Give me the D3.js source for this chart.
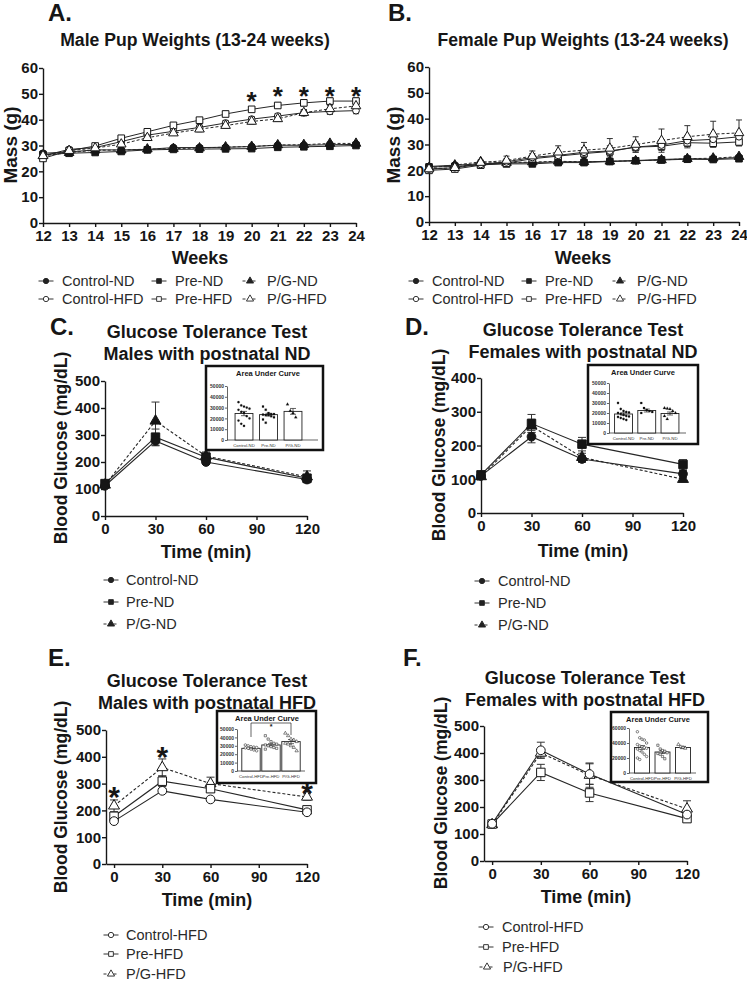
<!DOCTYPE html>
<html>
<head>
<meta charset="utf-8">
<script src="https://cdn.jsdelivr.net/npm/d3@7"></script>
<style>
  body { margin: 0; background: #fff; }
  svg { display: block; }
</style>
</head>
<body>
<svg id="fig" width="747" height="997"></svg>
<script>
// ---------------- data ----------------
const weeks = [12, 13, 14, 15, 16, 17, 18, 19, 20, 21, 22, 23, 24];
const massTicks = [0, 10, 20, 30, 40, 50, 60];
const gttTimes = [0, 30, 60, 120];
const gttTicks = [0, 30, 60, 90, 120];
const ndNames = ["Control-ND", "Pre-ND", "P/G-ND"];
const hfdNames = ["Control-HFD", "Pre-HFD", "P/G-HFD"];

// A. male pup weights (g)
const maleCtrlND = [27, 27.5, 28.3, 28.3, 28.5, 29.2, 29.2, 29.3, 29.6, 30.1, 30.1, 30.3, 30.4];
const malePreND = [26.5, 27, 27.3, 27.7, 28.3, 28.5, 28.6, 28.7, 28.8, 29.3, 29.5, 29.7, 30];
const malePgND = [26, 27.2, 28.2, 28.2, 28.6, 28.8, 29, 29.4, 29.6, 30.2, 30.3, 30.8, 30.8];
const maleCtrlHFD = [26, 28.5, 29.2, 31.5, 34, 35.5, 37, 38.7, 40.2, 41.4, 42.7, 43.2, 43.5];
const malePreHFD = [25, 28, 29.8, 32.8, 35.3, 37.8, 39.8, 42.2, 44, 45.5, 46.5, 47.2, 47.2];
const malePgHFD = [26, 28, 29, 30.5, 33, 34.8, 36.3, 37.7, 39.3, 40.3, 42.7, 44.2, 45.3];
const maleNDErr = [0.4, 0.4, 0.4, 0.4, 0.4, 0.4, 0.4, 0.5, 0.5, 0.5, 0.5, 0.5, 0.5];
const maleHFDErr = [0.5, 0.5, 0.6, 0.8, 0.8, 0.9, 1, 1, 1, 1, 1.2, 1.2, 1.2];
const maleStarWeeks = [20, 21, 22, 23, 24];
const maleStarMass = [49.2, 51.2, 51.2, 51.2, 51.2];

// B. female pup weights (g)
const femCtrlND = [21.5, 22, 22.5, 22.8, 23, 23.3, 23.3, 23.5, 23.8, 24.2, 24.5, 24.4, 25];
const femPreND = [21.3, 21.5, 22.2, 22.5, 22.5, 23, 23, 23.4, 23.7, 24, 24.3, 24.2, 24.5];
const femPgND = [21, 22, 23.3, 23, 23.2, 23.5, 23.3, 23.5, 23.7, 24, 24.5, 24.7, 25.3];
const femCtrlHFD = [20.5, 21, 22.3, 23.3, 25, 25.8, 27, 27.5, 29, 29.8, 31.5, 32, 33];
const femPreHFD = [20, 20.5, 22, 22.8, 24.5, 25.5, 26.5, 27.3, 29, 29.3, 30.7, 30.5, 31];
const femPgHFD = [20.5, 21, 23, 23.8, 25.5, 27, 27.8, 28.5, 30, 31.5, 33, 34, 34.5];
const femNDErr = [0.4, 0.4, 0.4, 0.4, 0.4, 0.4, 0.4, 0.4, 0.4, 0.5, 0.5, 0.5, 0.5];
const femCtrlHFDErr = [0.5, 0.5, 0.8, 1.2, 1.5, 1.5, 1.8, 2, 2, 2, 2, 1.5, 1.5];
const femPreHFDErr = [0.5, 0.5, 0.8, 1, 1.2, 1.5, 1.5, 1.5, 1.5, 1.5, 1.5, 1.5, 1.5];
const femPgHFDErr = [0.5, 0.6, 1, 1.7, 2, 2.5, 3, 3.8, 3, 4.5, 4.3, 5, 5];

// C. GTT males, postnatal ND (mg/dL)
const gttMaleCtrlND = [112, 278, 200, 135], gttMaleCtrlNDErr = [8, 18, 8, 8];
const gttMalePreND = [120, 292, 218, 140], gttMalePreNDErr = [8, 30, 10, 10];
const gttMalePgND = [115, 352, 222, 145], gttMalePgNDErr = [10, 70, 15, 22];
// D. GTT females, postnatal ND
const gttFemCtrlND = [110, 226, 160, 116], gttFemCtrlNDErr = [6, 18, 10, 10];
const gttFemPreND = [113, 265, 204, 144], gttFemPreNDErr = [6, 27, 20, 14];
const gttFemPgND = [108, 258, 165, 100], gttFemPgNDErr = [5, 20, 12, 6];
// E. GTT males, postnatal HFD
const gttMaleCtrlHFD = [160, 273, 241, 193], gttMaleCtrlHFDErr = [6, 8, 6, 6];
const gttMalePreHFD = [178, 309, 281, 202], gttMalePreHFDErr = [10, 20, 14, 8];
const gttMalePgHFD = [217, 360, 300, 250], gttMalePgHFDErr = [22, 32, 24, 12];
const gttMaleStarTime = [0, 30, 120];
const gttMaleStarGlu = [276, 425, 291];
// F. GTT females, postnatal HFD
const gttFemCtrlHFD = [138, 410, 322, 172], gttFemCtrlHFDErr = [8, 30, 38, 15];
const gttFemPreHFD = [137, 328, 252, 157], gttFemPreHFDErr = [8, 30, 32, 10];
const gttFemPgHFD = [135, 400, 318, 193], gttFemPgHFDErr = [8, 15, 45, 30];

// insets: area under curve
const aucTicks50 = [0, 10000, 20000, 30000, 40000, 50000];
const aucTicks60 = [0, 20000, 40000, 60000];
const aucMaleND = [24500, 23500, 26500], aucMaleNDErr = [2000, 1200, 2700];
const aucMaleNDDots = [
  [35000, 32000, 31000, 30000, 29000, 28000, 26000, 25000, 22000, 20000, 18000, 15000, 13000],
  [31000, 28000, 25000, 24000, 24000, 23500, 23000, 23000, 22000, 21000, 19000, 16000],
  [33000, 27000, 25000, 21000]];
const aucFemND = [19000, 22500, 19500], aucFemNDErr = [1200, 1500, 1500];
const aucFemNDDots = [
  [30000, 24000, 22000, 21000, 20500, 20000, 19000, 18000, 17000, 16500, 16000, 15000, 14000, 13000],
  [30000, 25000, 23000, 22000, 21000, 20000],
  [25000, 24500, 24000, 22000, 20000, 17000, 14000]];
const aucMaleHFD = [27000, 31000, 35000], aucMaleHFDErr = [1000, 1500, 2500];
const aucMaleHFDDots = [
  [31000, 30000, 29000, 28500, 28000, 27500, 27000, 26000, 25000, 24000],
  [42000, 38000, 35000, 33000, 32000, 31000, 30000, 29000, 28000, 27000, 26000],
  [45000, 42000, 38000, 37000, 35000, 33000, 32000, 30000, 28000, 24000]];
const aucFemHFD = [34000, 28000, 34000], aucFemHFDErr = [2500, 2000, 1500];
const aucFemHFDDots = [
  [55000, 47000, 45000, 44000, 40000, 38000, 36000, 35000, 34000, 33000, 32000, 30000, 28000, 25000, 22000, 20000, 18000],
  [37000, 32000, 30000, 29000, 27000, 26000, 25000, 22000, 19000],
  [38000, 35000, 34000, 33000]];

// ---------------- drawing ----------------
const FONT = '"Liberation Sans", Arial, Helvetica, sans-serif';
const INK = "#161616";
const shapes = [d3.symbolCircle, d3.symbolSquare, d3.symbolTriangle];
const dashes = [null, null, "3,2"];
const svg = d3.select("#fig").attr("font-family", FONT);

function txt(x, y, s, size, opts = {}) {
  return svg.append("text")
    .attr("x", x).attr("y", y)
    .attr("font-size", size)
    .attr("font-weight", opts.bold === false ? "normal" : "bold")
    .attr("text-anchor", opts.anchor || "middle")
    .attr("fill", opts.fill || INK)
    .text(s);
}

function yLabel(x, y, s, size) {
  svg.append("text")
    .attr("transform", `translate(${x},${y}) rotate(-90)`)
    .attr("font-size", size).attr("font-weight", "bold")
    .attr("text-anchor", "middle").attr("fill", INK)
    .text(s);
}

function star(g, x, y, size) {
  g.append("text").attr("x", x).attr("y", y).attr("dy", "0.55em")
    .attr("text-anchor", "middle").attr("font-size", size)
    .attr("font-weight", "bold").attr("fill", INK).text("*");
}

function linePanel(p) {
  const x = d3.scaleLinear().domain(p.xDom).range(p.xRange);
  const y = d3.scaleLinear().domain(p.yDom).range(p.yRange);
  const g = svg.append("g");

  const xAxis = g.append("g").attr("transform", `translate(0,${p.yRange[0]})`)
    .call(d3.axisBottom(x).tickValues(p.xTicks).tickSize(4).tickSizeOuter(0).tickPadding(3));
  const yAxis = g.append("g").attr("transform", `translate(${p.xRange[0]},0)`)
    .call(d3.axisLeft(y).tickValues(p.yTicks).tickSize(4).tickSizeOuter(0).tickPadding(1));
  [xAxis, yAxis].forEach(a => {
    a.attr("font-family", FONT).attr("font-size", p.tickFont).attr("font-weight", "bold");
    a.selectAll("path,line").attr("stroke", INK).attr("stroke-width", 1.4);
    a.selectAll("text").attr("fill", INK);
  });

  const line = d3.line().x((d, i) => x(p.x[i])).y(d => y(d));
  p.series.forEach(s => {
    g.append("path").attr("d", line(s.v))
      .attr("fill", "none").attr("stroke", "#262626")
      .attr("stroke-width", p.lw)
      .attr("stroke-dasharray", dashes[s.gi]);
  });

  // error bars
  p.series.forEach(s => {
    s.v.forEach((v, i) => {
      const cx = x(p.x[i]), t = y(v + s.e[i]), b = y(v - s.e[i]);
      g.append("line").attr("x1", cx).attr("x2", cx).attr("y1", t).attr("y2", b)
        .attr("stroke", "#333").attr("stroke-width", 1);
      [t, b].forEach(yy => g.append("line")
        .attr("x1", cx - p.cap).attr("x2", cx + p.cap).attr("y1", yy).attr("y2", yy)
        .attr("stroke", "#333").attr("stroke-width", 1));
    });
  });

  p.series.forEach(s => {
    g.selectAll(null).data(s.v).join("path")
      .attr("transform", (d, i) => `translate(${x(p.x[i])},${y(d)})`)
      .attr("d", d3.symbol(shapes[s.gi], p.sym[s.gi]))
      .attr("fill", s.open ? "#fff" : INK)
      .attr("stroke", INK).attr("stroke-width", 1);
  });

  if (p.stars) p.stars.x.forEach((sx, i) => star(g, x(sx), y(p.stars.y[i]), p.stars.size));
}

function legend(items) {
  items.rows.forEach((ty, i) => {
    const g = svg.append("g");
    const mx = items.mx[i];
    g.append("line").attr("x1", mx - 7.5).attr("x2", mx + 7.5).attr("y1", ty).attr("y2", ty)
      .attr("stroke", "#333").attr("stroke-width", 1).attr("stroke-dasharray", dashes[items.gi[i]]);
    g.append("path").attr("transform", `translate(${mx},${ty})`)
      .attr("d", d3.symbol(shapes[items.gi[i]], 22)())
      .attr("fill", items.open[i] ? "#fff" : "#222").attr("stroke", "#222").attr("stroke-width", 0.9);
    g.append("text").attr("x", items.tx[i]).attr("y", ty).attr("dy", "0.36em")
      .attr("font-size", 14.5).attr("fill", "#2a2a2a").text(items.names[i]);
  });
}

function inset(p) {
  const g = svg.append("g");
  const [x0, y0, x1, y1] = p.box;
  g.append("rect").attr("x", x0).attr("y", y0).attr("width", x1 - x0).attr("height", y1 - y0)
    .attr("fill", "#fff").attr("stroke", "#111").attr("stroke-width", 2.5);
  g.append("text").attr("x", p.titleX).attr("y", y0 + 10).attr("text-anchor", "middle")
    .attr("font-size", 7.5).attr("font-weight", "bold").attr("fill", INK).text("Area Under Curve");

  const y = d3.scaleLinear().domain([0, p.yMax]).range(p.yRange);
  const xb = d3.scaleBand().domain(p.cats).range(p.band)
    .paddingInner(p.pad).paddingOuter(p.pad / 2);
  const ya = g.append("g").attr("transform", `translate(${p.axisX},0)`)
    .call(d3.axisLeft(y).tickValues(p.ticks).tickFormat(d3.format("d"))
      .tickSize(2).tickSizeOuter(0).tickPadding(1));
  ya.attr("font-family", FONT).attr("font-size", 5).attr("font-weight", "bold");
  ya.selectAll("path,line").attr("stroke", "#222").attr("stroke-width", 0.7);
  ya.selectAll("text").attr("fill", "#333");
  g.append("line").attr("x1", p.axisX).attr("x2", p.xEnd)
    .attr("y1", p.yRange[0]).attr("y2", p.yRange[0]).attr("stroke", "#222").attr("stroke-width", 0.7);

  p.cats.forEach((c, i) => {
    const bx = xb(c), bw = xb.bandwidth(), cx = bx + bw / 2;
    g.append("rect").attr("x", bx).attr("y", y(p.vals[i]))
      .attr("width", bw).attr("height", y(0) - y(p.vals[i]))
      .attr("fill", "#fff").attr("stroke", "#222").attr("stroke-width", 0.9);
    // error bar
    const t = y(p.vals[i] + p.errs[i]), b = y(p.vals[i] - p.errs[i]);
    g.append("line").attr("x1", cx).attr("x2", cx).attr("y1", t).attr("y2", b)
      .attr("stroke", "#222").attr("stroke-width", 0.7);
    [t, b].forEach(yy => g.append("line").attr("x1", cx - 3).attr("x2", cx + 3)
      .attr("y1", yy).attr("y2", yy).attr("stroke", "#222").attr("stroke-width", 0.7));
    // individual animals, spread sideways by index
    p.dots[i].forEach((v, k) => {
      const off = ((k % 5) - 2) * bw / 6.5;
      g.append("path").attr("transform", `translate(${cx + off},${y(v)})`)
        .attr("d", d3.symbol(shapes[i], p.open ? 5 : 4)())
        .attr("fill", p.open ? "#fff" : "#111")
        .attr("stroke", "#111").attr("stroke-width", p.open ? 0.5 : 0.2);
    });
    g.append("text").attr("x", cx).attr("y", p.yRange[0] + 6.5).attr("text-anchor", "middle")
      .attr("font-size", 4.3).attr("fill", "#333").text(c);
  });

  if (p.bracket) {
    const a = xb(p.cats[0]) + xb.bandwidth() / 2, b = xb(p.cats[2]) + xb.bandwidth() / 2;
    const by = p.bracket;
    g.append("path").attr("d", `M${a},${by + 14}V${by}H${b}V${by + 12}`)
      .attr("fill", "none").attr("stroke", "#222").attr("stroke-width", 0.7);
    g.append("text").attr("x", (a + b) / 2).attr("y", by + 6).attr("text-anchor", "middle")
      .attr("font-size", 7).attr("font-weight", "bold").attr("fill", INK).text("*");
  }
}

// ----- panel letters and titles -----
txt(48, 21, "A.", 24, { anchor: "start" });
txt(388, 21, "B.", 24, { anchor: "start" });
txt(50, 335, "C.", 24, { anchor: "start" });
txt(405, 335, "D.", 24, { anchor: "start" });
txt(48, 666, "E.", 24, { anchor: "start" });
txt(403, 666, "F.", 24, { anchor: "start" });

txt(195, 46, "Male Pup Weights (13-24 weeks)", 17.6);
txt(583, 46, "Female Pup Weights (13-24 weeks)", 17.6);
txt(207, 338, "Glucose Tolerance Test", 18);
txt(207, 360, "Males with postnatal ND", 18);
txt(583, 336, "Glucose Tolerance Test", 18);
txt(583, 358, "Females with postnatal ND", 18);
txt(207, 687, "Glucose Tolerance Test", 18);
txt(207, 709, "Males with postnatal HFD", 18);
txt(585, 684, "Glucose Tolerance Test", 18);
txt(585, 706, "Females with postnatal HFD", 18);

// axis titles
txt(200, 264, "Weeks", 18);
txt(583, 264, "Weeks", 18);
yLabel(17, 145, "Mass (g)", 19);
yLabel(400, 145, "Mass (g)", 19);
txt(206, 558, "Time (min)", 18);
txt(583, 557, "Time (min)", 18);
txt(207, 906, "Time (min)", 18);
txt(586, 903, "Time (min)", 18);
yLabel(67, 448, "Blood Glucose (mg/dL)", 17.5);
yLabel(445, 445, "Blood Glucose (mg/dL)", 17.5);
yLabel(67, 797, "Blood Glucose (mg/dL)", 17.5);
yLabel(447, 793, "Blood Glucose (mg/dL)", 17.5);

// ----- weight panels -----
const weightSym = [36, 44, 40];
linePanel({
  x: weeks, xDom: [12, 24], xRange: [43, 356], yDom: [0, 60], yRange: [223, 68],
  xTicks: weeks, yTicks: massTicks, tickFont: 15, lw: 1, cap: 3, sym: weightSym,
  series: [
    { gi: 0, open: false, v: maleCtrlND, e: maleNDErr },
    { gi: 1, open: false, v: malePreND, e: maleNDErr },
    { gi: 2, open: false, v: malePgND, e: maleNDErr },
    { gi: 0, open: true, v: maleCtrlHFD, e: maleHFDErr },
    { gi: 1, open: true, v: malePreHFD, e: maleHFDErr },
    { gi: 2, open: true, v: malePgHFD, e: maleHFDErr }],
  stars: { x: maleStarWeeks, y: maleStarMass, size: 26 }
});
linePanel({
  x: weeks, xDom: [12, 24], xRange: [429, 739], yDom: [0, 60], yRange: [222, 67],
  xTicks: weeks, yTicks: massTicks, tickFont: 15, lw: 1, cap: 3, sym: weightSym,
  series: [
    { gi: 0, open: false, v: femCtrlND, e: femNDErr },
    { gi: 1, open: false, v: femPreND, e: femNDErr },
    { gi: 2, open: false, v: femPgND, e: femNDErr },
    { gi: 1, open: true, v: femPreHFD, e: femPreHFDErr },
    { gi: 0, open: true, v: femCtrlHFD, e: femCtrlHFDErr },
    { gi: 2, open: true, v: femPgHFD, e: femPgHFDErr }]
});

// ----- GTT panels -----
const gttSym = [60, 72, 52];
const gttCommon = { x: gttTimes, xTicks: gttTicks, tickFont: 15, lw: 1.1, cap: 4, sym: gttSym };
linePanel(Object.assign({}, gttCommon, {
  xDom: [0, 120], xRange: [105, 307], yDom: [0, 500], yRange: [516, 381],
  yTicks: [0, 100, 200, 300, 400, 500],
  series: [
    { gi: 2, open: false, v: gttMalePgND, e: gttMalePgNDErr },
    { gi: 1, open: false, v: gttMalePreND, e: gttMalePreNDErr },
    { gi: 0, open: false, v: gttMaleCtrlND, e: gttMaleCtrlNDErr }]
}));
linePanel(Object.assign({}, gttCommon, {
  xDom: [0, 120], xRange: [481, 683], yDom: [0, 400], yRange: [513, 378],
  yTicks: [0, 100, 200, 300, 400],
  series: [
    { gi: 2, open: false, v: gttFemPgND, e: gttFemPgNDErr },
    { gi: 1, open: false, v: gttFemPreND, e: gttFemPreNDErr },
    { gi: 0, open: false, v: gttFemCtrlND, e: gttFemCtrlNDErr }]
}));
linePanel(Object.assign({}, gttCommon, {
  xDom: [-5, 120], xRange: [106, 307], yDom: [0, 500], yRange: [864, 730],
  yTicks: [0, 100, 200, 300, 400, 500],
  series: [
    { gi: 2, open: true, v: gttMalePgHFD, e: gttMalePgHFDErr },
    { gi: 1, open: true, v: gttMalePreHFD, e: gttMalePreHFDErr },
    { gi: 0, open: true, v: gttMaleCtrlHFD, e: gttMaleCtrlHFDErr }],
  stars: { x: gttMaleStarTime, y: gttMaleStarGlu, size: 30 }
}));
linePanel(Object.assign({}, gttCommon, {
  xDom: [-5, 120], xRange: [484, 687], yDom: [0, 500], yRange: [861, 726],
  yTicks: [0, 100, 200, 300, 400, 500],
  series: [
    { gi: 2, open: true, v: gttFemPgHFD, e: gttFemPgHFDErr },
    { gi: 1, open: true, v: gttFemPreHFD, e: gttFemPreHFDErr },
    { gi: 0, open: true, v: gttFemCtrlHFD, e: gttFemCtrlHFDErr }]
}));

// ----- insets -----
inset({ box: [206, 366, 323, 450], titleX: 268, axisX: 227, xEnd: 318, yRange: [440, 386],
  yMax: 50000, ticks: aucTicks50, band: [231.75, 305.25], pad: 0.27,
  cats: ndNames, vals: aucMaleND, errs: aucMaleNDErr, dots: aucMaleNDDots, open: false });
inset({ box: [588, 365, 698, 444], titleX: 643, axisX: 609, xEnd: 686, yRange: [433, 383],
  yMax: 50000, ticks: aucTicks50, band: [611.9, 681.6], pad: 0.23,
  cats: ndNames, vals: aucFemND, errs: aucFemNDErr, dots: aucFemNDDots, open: false });
inset({ box: [217, 711, 316, 783], titleX: 267, axisX: 237, xEnd: 305, yRange: [771, 729],
  yMax: 50000, ticks: aucTicks50, band: [241, 301], pad: 0.08,
  cats: hfdNames, vals: aucMaleHFD, errs: aucMaleHFDErr, dots: aucMaleHFDDots, open: true,
  bracket: 723 });
inset({ box: [611, 712, 708, 782], titleX: 658, axisX: 629, xEnd: 696, yRange: [773, 728],
  yMax: 60000, ticks: aucTicks60, band: [631.75, 693.25], pad: 0.27,
  cats: hfdNames, vals: aucFemHFD, errs: aucFemHFDErr, dots: aucFemHFDDots, open: true });

// ----- legends -----
legend({ rows: [281, 281, 281], mx: [46, 159, 250], tx: [62, 175, 267], gi: [0, 1, 2],
  open: [false, false, false], names: ndNames });
legend({ rows: [299, 299, 299], mx: [46, 159, 250], tx: [62, 175, 267], gi: [0, 1, 2],
  open: [true, true, true], names: hfdNames });
legend({ rows: [281, 281, 281], mx: [416, 529, 620], tx: [432, 545, 637], gi: [0, 1, 2],
  open: [false, false, false], names: ndNames });
legend({ rows: [299, 299, 299], mx: [416, 529, 620], tx: [432, 545, 637], gi: [0, 1, 2],
  open: [true, true, true], names: hfdNames });
legend({ rows: [580, 602, 624], mx: [111, 111, 111], tx: [126, 126, 126], gi: [0, 1, 2],
  open: [false, false, false], names: ndNames });
legend({ rows: [581, 603, 625], mx: [482, 482, 482], tx: [498, 498, 498], gi: [0, 1, 2],
  open: [false, false, false], names: ndNames });
legend({ rows: [935, 954, 974], mx: [111, 111, 111], tx: [126, 126, 126], gi: [0, 1, 2],
  open: [true, true, true], names: hfdNames });
legend({ rows: [927, 947, 967], mx: [486, 486, 487], tx: [502, 502, 503], gi: [0, 1, 2],
  open: [true, true, true], names: hfdNames });
</script>
</body>
</html>
